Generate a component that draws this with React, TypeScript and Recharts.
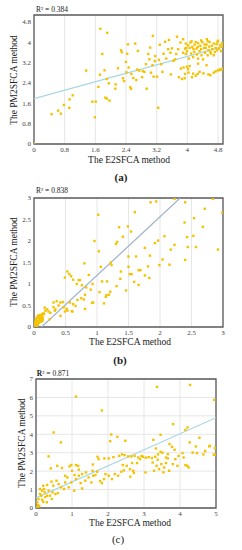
import React from 'react';
import { ScatterChart, Scatter, XAxis, YAxis, CartesianGrid, ReferenceLine, ReferenceArea } from 'recharts';

// (a) E2SFCA vs PM2SFCA, R² = 0.384
const pointsA: [number, number][] = [
  [0, 0], [0.46, 1.17], [0.63, 1.31], [0.7, 1.19], [0.78, 1.53], [0.92, 1.42], [0.93, 1.75], [1.01, 1.91],
  [1.36, 2.88], [1.52, 1.66], [1.61, 1.66], [1.59, 1.05], [1.68, 2.24], [1.73, 4.52], [1.72, 2.72], [1.78, 3.53],
  [1.84, 2.89], [1.86, 1.82], [1.9, 1.78], [1.91, 4.36], [1.9, 2.55], [1.97, 1.7], [1.95, 2.38], [2.12, 2.17],
  [2.13, 2.34], [2.19, 2.97], [2.27, 3.68], [2.29, 3.6], [2.32, 2.58], [2.35, 2.47], [2.4, 3.22], [2.41, 2.81],
  [2.43, 3.54], [2.45, 3.91], [2.47, 3.0], [2.51, 2.23], [2.53, 2.16], [2.54, 2.75], [2.59, 2.59], [2.64, 3.94],
  [2.67, 2.51], [2.69, 2.92], [2.71, 3.65], [2.75, 2.88], [2.82, 2.62], [2.84, 2.86], [2.88, 2.83], [2.92, 3.13],
  [2.94, 2.17], [2.98, 3.53], [3.01, 3.32], [3.03, 3.78], [3.05, 2.8], [3.09, 3.09], [3.1, 4.24], [3.12, 2.64],
  [3.15, 3.25], [3.16, 3.45], [3.21, 2.64], [3.24, 1.42], [3.26, 3.3], [3.28, 3.89], [3.32, 3.13], [3.35, 2.83],
  [3.38, 3.54], [3.42, 4.01], [3.45, 3.35], [3.5, 3.72], [3.52, 4.08], [3.56, 3.58], [3.57, 2.73], [3.6, 3.75],
  [3.64, 3.26], [3.68, 3.32], [3.71, 3.53], [3.73, 4.21], [3.76, 3.72], [3.78, 2.62], [3.82, 3.98], [3.83, 2.96],
  [3.86, 2.55], [3.89, 4.11], [3.9, 3.0], [3.93, 2.58], [3.96, 3.53], [3.97, 3.77], [3.99, 3.03], [4.02, 2.93],
  [3.94, 2.75], [4.03, 2.8], [4.15, 2.76], [4.27, 2.75], [4.32, 2.83], [4.42, 2.77], [4.69, 2.8], [4.74, 2.85],
  [4.8, 2.89], [4.87, 2.93], [4.92, 2.96], [4.28, 3.15], [4.5, 3.09], [4.06, 3.06], [4.55, 2.73], [4.6, 2.7],
  [4.84, 2.9], [4.9, 2.92], [4.12, 2.62], [4.22, 2.68],
  [3.96, 3.94], [4.02, 3.87], [4.08, 3.98], [4.13, 3.81], [4.19, 3.9], [4.24, 3.74], [4.28, 3.95], [4.34, 3.85],
  [4.39, 4.0], [4.44, 3.77], [4.5, 3.9], [4.55, 3.68], [4.58, 4.0], [4.64, 3.85], [4.69, 3.94], [4.74, 3.77],
  [4.79, 4.0], [4.85, 3.87], [4.9, 3.95], [4.93, 3.82], [3.99, 3.64], [4.1, 3.55], [4.18, 3.61], [4.25, 3.51],
  [4.32, 3.64], [4.37, 3.48], [4.46, 3.58], [4.53, 3.48], [4.6, 3.61], [4.65, 3.72], [4.72, 3.61], [4.77, 3.68],
  [4.83, 3.74], [4.88, 3.64], [4.92, 3.9], [4.04, 3.35], [4.15, 3.41], [4.28, 3.35], [4.41, 3.32], [4.06, 3.77],
  [4.16, 3.72], [4.27, 3.81], [4.36, 3.72], [4.48, 3.77], [4.57, 3.82], [4.62, 3.55], [4.69, 3.48], [3.94, 3.74],
  [3.89, 3.58], [4.9, 3.81], [4.76, 3.92], [4.45, 3.91], [4.22, 4.0], [4.11, 4.03], [4.53, 4.03], [4.51, 4.11],
  [4.36, 4.06], [4.8, 4.05],
];

// (b) R² = 0.838
const pointsB: [number, number][] = [
  [1.02, 2.61], [1.35, 2.32], [1.32, 1.98], [1.3, 1.93], [0.96, 2.0], [1.03, 1.76], [0.8, 1.48], [1.06, 1.4],
  [1.23, 1.44], [0.49, 1.15], [0.53, 1.29], [0.56, 1.23], [0.59, 1.18], [0.62, 1.1], [0.71, 1.09], [0.73, 1.09],
  [0.68, 1.0], [0.76, 0.97], [0.87, 1.21], [0.83, 0.92], [0.81, 0.75], [0.9, 0.87], [0.93, 1.0], [1.04, 0.81],
  [1.08, 1.06], [1.16, 1.06], [1.21, 0.82], [1.19, 0.75], [1.11, 0.55], [0.92, 0.56], [0.79, 0.64], [0.75, 0.67],
  [0.69, 0.63], [0.57, 0.57], [0.62, 0.53], [0.53, 0.38], [0.6, 0.37], [0.47, 0.46], [0.42, 0.57], [0.46, 0.58],
  [0.39, 0.5], [0.31, 0.46], [0.33, 0.38], [0.26, 0.33], [0.21, 0.41], [0.17, 0.45], [0.18, 0.38], [0.15, 0.32],
  [0.12, 0.26], [0.11, 0.2], [0.07, 0.15], [0.1, 0.18], [0.05, 0.13], [0.03, 0.09], [0.02, 0.05], [0.01, 0.02],
  [0.04, 0.21], [0.06, 0.26], [0.08, 0.1], [0.13, 0.13], [0.14, 0.17], [0.16, 0.3], [0.23, 0.36], [0.25, 0.18],
  [0.31, 0.57], [0.34, 0.41], [0.36, 0.6], [0.42, 0.26], [0.49, 0.36], [0.52, 0.42], [0.61, 0.36], [0.66, 0.49],
  [0.81, 0.42], [0.94, 0.57], [0.02, 0.12], [0.04, 0.08], [0.06, 0.05], [0.08, 0.2], [0.1, 0.24], [0.03, 0.17],
  [0.07, 0.22], [0.09, 0.12], [0.11, 0.15], [0.05, 0.03], [0.01, 0.08], [0.14, 0.22], [0.12, 0.18], [0.09, 0.28],
  [0.13, 0.3], [0.06, 0.14], [1.41, 2.1], [1.31, 0.95], [1.38, 1.29], [1.37, 1.12], [1.22, 1.5], [1.14, 0.7],
  [1.15, 0.74],
  [1.85, 2.9], [1.94, 2.92], [2.23, 2.98], [2.4, 2.9], [2.84, 2.98], [2.99, 2.66], [1.6, 2.67], [2.71, 2.75],
  [2.54, 2.53], [2.39, 2.43], [1.49, 2.34], [1.54, 2.22], [2.07, 2.11], [1.97, 2.01], [1.92, 1.95], [1.76, 1.84],
  [2.23, 1.91], [2.17, 1.8], [2.43, 2.09], [2.53, 2.12], [2.68, 2.33], [2.44, 1.86], [2.57, 1.86], [2.92, 1.8],
  [1.84, 1.66], [1.62, 1.64], [2.04, 1.57], [2.4, 1.56], [1.5, 1.64], [1.99, 1.44], [2.15, 1.45], [1.5, 1.4],
  [1.81, 1.41], [1.66, 1.32], [1.69, 1.32], [1.52, 1.23], [1.55, 1.23], [1.76, 1.2], [1.83, 1.14], [1.59, 1.05],
  [1.66, 0.98], [1.46, 0.85],
];

// (c) R² = 0.871
const pointsC: [number, number][] = [
  [0, 0], [1.11, 6.05], [1.83, 5.29], [0.49, 4.1], [0.69, 3.56], [2.06, 3.63], [2.09, 3.99], [2.26, 3.86],
  [0.35, 2.8], [0.41, 2.15], [0.59, 2.29], [0.72, 2.17], [0.93, 2.26], [0.98, 2.33], [1.11, 2.33], [1.17, 2.29],
  [1.58, 2.36], [1.71, 2.78], [1.74, 2.65], [1.9, 2.69], [2.02, 2.69], [2.15, 2.76], [2.31, 2.83], [2.39, 2.91],
  [0.11, 0.76], [0.15, 0.67], [0.07, 0.49], [0.04, 0.31], [0.06, 0.16], [0.09, 0.09], [0.02, 0.04], [0.17, 0.45],
  [0.2, 0.34], [0.26, 0.6], [0.31, 0.67], [0.24, 0.85], [0.17, 0.94], [0.2, 1.21], [0.31, 1.25], [0.43, 1.43],
  [0.48, 1.21], [0.57, 1.48], [0.63, 1.3], [0.7, 1.12], [0.78, 1.03], [0.81, 1.39], [0.91, 1.12], [0.98, 1.39],
  [1.06, 0.94], [1.11, 1.57], [1.19, 1.75], [1.24, 1.35], [1.28, 1.06], [1.37, 1.48], [1.46, 1.66], [1.54, 1.39],
  [1.59, 1.75], [1.65, 1.79], [1.7, 1.97], [1.78, 1.46], [1.83, 1.35], [1.89, 1.57], [1.93, 1.84], [2.02, 1.75],
  [2.11, 1.57], [2.19, 1.84], [2.28, 1.75], [2.37, 1.97], [2.44, 2.04], [0.35, 0.94], [0.39, 0.67], [0.46, 0.85],
  [0.54, 0.76], [0.61, 0.81], [0.44, 0.49], [0.3, 0.31], [0.81, 1.75], [1.0, 2.02], [1.19, 2.08], [1.39, 1.93],
  [1.57, 2.02], [0.87, 1.66], [1.07, 1.79], [1.28, 1.84], [0.11, 1.03], [0.22, 1.03],
  [3.36, 6.57], [4.28, 6.68], [4.95, 5.87], [3.81, 4.55], [4.21, 4.37], [4.15, 4.24], [3.46, 3.97], [3.26, 3.7],
  [2.48, 3.65], [4.54, 3.81], [3.71, 3.47], [3.78, 3.32], [3.85, 3.16], [4.27, 3.56], [4.44, 3.34], [4.83, 3.38],
  [4.94, 2.89], [4.65, 2.91], [4.7, 3.09], [4.35, 3.01], [4.47, 2.98], [4.07, 2.98], [3.96, 2.83], [3.66, 2.92],
  [3.51, 3.0], [3.39, 2.91], [3.31, 2.78], [3.38, 2.62], [3.22, 2.71], [3.13, 2.76], [3.05, 2.73], [2.93, 2.82],
  [2.84, 2.74], [2.74, 2.83], [2.65, 2.8], [2.56, 2.8], [2.46, 2.87], [2.41, 2.33], [2.52, 2.29], [2.61, 2.11],
  [2.67, 2.44], [2.72, 1.9], [2.7, 2.02], [2.62, 1.7], [2.81, 2.44], [3.04, 1.93], [3.24, 2.47], [3.28, 2.02],
  [3.35, 2.29], [3.42, 2.11], [3.48, 2.38], [3.54, 1.93], [3.56, 2.2], [3.61, 2.44], [3.66, 2.69], [3.7, 2.02],
  [3.8, 2.38], [3.87, 2.65], [3.93, 2.29], [4.1, 2.74], [4.15, 2.33], [4.2, 2.29], [4.24, 2.2], [3.61, 2.74],
  [3.46, 3.05], [3.33, 3.23], [2.97, 2.78], [2.89, 2.65], [4.81, 3.34], [4.97, 3.25], [4.97, 2.9],
];

const ticksA = [0, 0.8, 1.6, 2.4, 3.2, 4, 4.8];
const ticksB = [0, 0.5, 1, 1.5, 2, 2.5, 3];
const ticksCx = [0, 1, 2, 3, 4, 5];
const ticksCy = [0, 1, 2, 3, 4, 5, 6, 7];

const trendA = [{ x: 0, y: 1.78 }, { x: 4.93, y: 3.82 }];
const trendB = [{ x: 0.12, y: 0 }, { x: 2.32, y: 3 }];
const trendC = [{ x: 0, y: 0.55 }, { x: 5, y: 4.9 }];

const SERIF = '"Liberation Serif", "DejaVu Serif", serif';
const DOT = '#f3c300';

const Dot = (props: any) => {
  const { cx, cy } = props;
  if (cx == null || cy == null) return null;
  return <rect x={cx - 1.2} y={cy - 1.2} width={2.4} height={2.4} fill={DOT} />;
};

const Txt = ({ x, y, children, rotate = false, size = 9.5, bold = false }: any) => (
  <div
    style={{
      position: 'absolute',
      left: x,
      top: y,
      transform: `translate(-50%, -50%)${rotate ? ' rotate(-90deg)' : ''}`,
      whiteSpace: 'nowrap',
      fontFamily: SERIF,
      fontSize: size,
      fontWeight: bold ? 700 : 400,
      color: '#222',
      lineHeight: 1,
    }}
  >
    {children}
  </div>
);

interface PanelProps {
  top: number;
  height: number;
  marginTop: number;
  marginRight: number;
  yWidth: number;
  xHeight: number;
  xDomain: [number, number];
  yDomain: [number, number];
  xTicks: number[];
  yTicks: number[];
  points: [number, number][];
  trend: { x: number; y: number }[];
  trendColor: string;
  hGrid: boolean;
}

const Panel = (p: PanelProps) => {
  const data = p.points.map(([x, y]) => ({ x, y }));
  return (
    <div style={{ position: 'absolute', left: 0, top: p.top }}>
      <ScatterChart
        width={242}
        height={p.height}
        margin={{ top: p.marginTop, right: p.marginRight, bottom: 0, left: 0 }}
      >
        <CartesianGrid stroke="#e6e6e6" vertical horizontal={p.hGrid} />
        <XAxis
          type="number"
          dataKey="x"
          domain={p.xDomain}
          ticks={p.xTicks}
          allowDataOverflow
          height={p.xHeight}
          axisLine={false}
          tickLine={false}
          tickSize={2}
          tickMargin={1}
          interval={0}
          tick={{ fontSize: 7, fill: '#444', fontFamily: SERIF }}
        />
        <YAxis
          type="number"
          dataKey="y"
          domain={p.yDomain}
          ticks={p.yTicks}
          allowDataOverflow
          width={p.yWidth}
          axisLine={false}
          tickLine={false}
          tickSize={2}
          tickMargin={1}
          interval={0}
          tick={{ fontSize: 7, fill: '#444', fontFamily: SERIF }}
        />
        <ReferenceLine segment={p.trend} stroke={p.trendColor} strokeWidth={1.2} ifOverflow="hidden" />
        <Scatter data={data} shape={Dot} isAnimationActive={false} />
        <ReferenceArea
          x1={p.xDomain[0]}
          x2={p.xDomain[1]}
          y1={p.yDomain[0]}
          y2={p.yDomain[1]}
          fill="none"
          fillOpacity={0}
          stroke="#5a5a5a"
          strokeWidth={1.3}
        />
      </ScatterChart>
    </div>
  );
};

export default function App() {
  return (
    <div style={{ position: 'absolute', left: 0, top: 0, width: 242, height: 550, background: '#fff', overflow: 'hidden' }}>
      <Panel
        top={0}
        height={183}
        marginTop={15}
        marginRight={19}
        yWidth={34}
        xHeight={39}
        xDomain={[0, 4.93]}
        yDomain={[0, 5.06]}
        xTicks={ticksA}
        yTicks={ticksA}
        points={pointsA}
        trend={trendA}
        trendColor="#a6d6e4"
        hGrid={false}
      />
      <Panel
        top={183}
        height={183}
        marginTop={15}
        marginRight={19}
        yWidth={34}
        xHeight={39}
        xDomain={[0, 3]}
        yDomain={[0, 3]}
        xTicks={ticksB}
        yTicks={ticksB}
        points={pointsB}
        trend={trendB}
        trendColor="#9fb3c9"
        hGrid={false}
      />
      <Panel
        top={366}
        height={184}
        marginTop={13}
        marginRight={26}
        yWidth={36}
        xHeight={42}
        xDomain={[0, 5]}
        yDomain={[0, 7]}
        xTicks={ticksCx}
        yTicks={ticksCy}
        points={pointsC}
        trend={trendC}
        trendColor="#a6d6e4"
        hGrid
      />

      <Txt x={52} y={10} size={7.5}>R² = 0.384</Txt>
      <Txt x={15} y={80} rotate>The PM2SFCA method</Txt>
      <Txt x={129} y={161}>The E2SFCA method</Txt>
      <Txt x={121} y={177} size={11} bold>(a)</Txt>

      <Txt x={52} y={191} size={7.5}>R² = 0.838</Txt>
      <Txt x={15} y={262} rotate>The PM2SFCA method</Txt>
      <Txt x={130} y={343}>The E2SFCA method</Txt>
      <Txt x={120} y={360} size={11} bold>(b)</Txt>

      <Txt x={53} y={374} size={7.5}><b>R</b>² = 0.871</Txt>
      <Txt x={23} y={443} rotate>The PM2SFCA method</Txt>
      <Txt x={130} y={524}>The E2SFCA method</Txt>
      <Txt x={118} y={539} size={11}>(c)</Txt>
    </div>
  );
}
